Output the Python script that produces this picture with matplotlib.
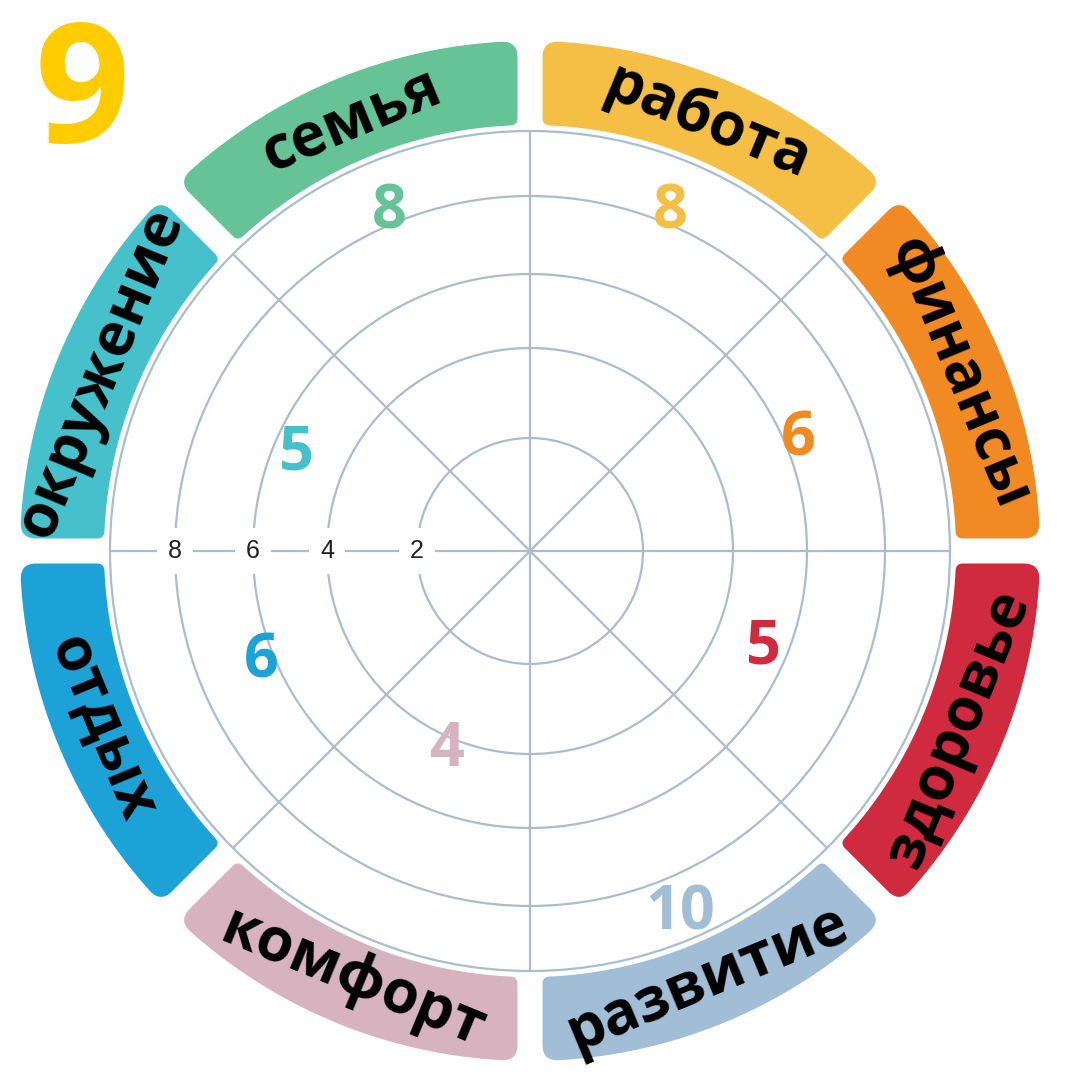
import numpy as np
import matplotlib
matplotlib.use("Agg")
import matplotlib.pyplot as plt
from matplotlib.path import Path
from matplotlib.patches import PathPatch

plt.rcParams['font.family'] = ['Open Sans', 'DejaVu Sans']

# sectors counter-clockwise starting at 3 o'clock
categories = ["финансы", "работа", "семья", "окружение",
              "отдых", "комфорт", "развитие", "здоровье"]
scores = [6, 8, 8, 5, 6, 4, 10, 5]
colors = ["#F28A24", "#F5BF45", "#65C397", "#46C1CC",
          "#1DA2D8", "#D6B3BF", "#A2BDD6", "#CF2A3E"]
ring_ticks = [2, 4, 6, 8]
total = "9"

# radial scale of the wheel (rings are not evenly spaced)
scale_vals = [0, 2, 4, 6, 8, 10]
scale_px = [0, 113, 203, 277, 355, 420]

GRID = "#A9BDCE"
cx, cy = 530, 529          # wheel centre, pixels (y up)
R = 420                    # outer grid circle, pixels
RIN, ROUT, GAP = 426, 510, 12.5


def fwd(v):
    return np.interp(v, scale_vals, scale_px)


def inv(p):
    return np.interp(p, scale_px, scale_vals)


def band_path(a1, a2, rin, rout, gap, ro, ri):
    def pt(r, a):
        return (cx + r * np.cos(a), cy + r * np.sin(a))

    def toward(P, Q, d):
        P = np.array(P)
        Q = np.array(Q)
        u = (Q - P) / np.linalg.norm(Q - P)
        return tuple(P + u * d)

    o1 = a1 + np.arcsin(gap / rout)
    o2 = a2 - np.arcsin(gap / rout)
    i1 = a1 + np.arcsin(gap / rin)
    i2 = a2 - np.arcsin(gap / rin)
    O1, O2, I1, I2 = pt(rout, o1), pt(rout, o2), pt(rin, i1), pt(rin, i2)

    verts, codes = [], []
    for k, a in enumerate(np.linspace(o1 + ro / rout, o2 - ro / rout, 80)):
        verts.append(pt(rout, a))
        codes.append(Path.MOVETO if k == 0 else Path.LINETO)
    verts += [O2, toward(O2, I2, ro)]
    codes += [Path.CURVE3, Path.CURVE3]
    verts.append(toward(I2, O2, ri))
    codes.append(Path.LINETO)
    verts += [I2, pt(rin, i2 - ri / rin)]
    codes += [Path.CURVE3, Path.CURVE3]
    for a in np.linspace(i2 - ri / rin, i1 + ri / rin, 80)[1:]:
        verts.append(pt(rin, a))
        codes.append(Path.LINETO)
    verts += [I1, toward(I1, O1, ri)]
    codes += [Path.CURVE3, Path.CURVE3]
    verts.append(toward(O1, I1, ro))
    codes.append(Path.LINETO)
    verts += [O1, pt(rout, o1 + ro / rout)]
    codes += [Path.CURVE3, Path.CURVE3]
    verts.append(verts[0])
    codes.append(Path.CLOSEPOLY)
    return Path(verts, codes)


fig = plt.figure(figsize=(10.8, 10.8), dpi=100)

# background layer in pixel coordinates: coloured bands, labels, total
bg = fig.add_axes([0, 0, 1, 1])
bg.set_xlim(0, 1080)
bg.set_ylim(0, 1080)
bg.axis('off')

n = len(categories)
step = 2 * np.pi / n
for i, (name, col) in enumerate(zip(categories, colors)):
    a1 = i * step
    a2 = a1 + step
    bg.add_patch(PathPatch(band_path(a1, a2, RIN, ROUT, GAP, 16, 7),
                           facecolor=col, edgecolor='none'))
    mid = a1 + step / 2
    rot = np.degrees(mid) - 90 if np.sin(mid) >= 0 else np.degrees(mid) + 90
    rl = 464
    bg.text(cx + rl * np.cos(mid), cy + rl * np.sin(mid), name,
            rotation=rot, rotation_mode='anchor', ha='center', va='center',
            fontsize=43, fontweight='bold', color='black')

bg.text(82, 982, total, ha='center', va='center', fontsize=120,
        fontweight='bold', color='#FFCC00')

# the wheel itself
ax = fig.add_axes([(cx - R) / 1080, (cy - R) / 1080, 2 * R / 1080, 2 * R / 1080],
                  projection='polar')
ax.set_facecolor('none')
ax.set_rscale('function', functions=(fwd, inv))
ax.set_ylim(0, 10)
ax.set_xticks(np.arange(n) * step)
ax.set_yticks(ring_ticks)
ax.set_xticklabels([])
ax.set_yticklabels([])
ax.tick_params(length=0)
ax.grid(True, color=GRID, linewidth=1.6)
ax.spines['polar'].set_color(GRID)
ax.spines['polar'].set_linewidth(1.6)

for v in ring_ticks:
    ax.text(np.pi, v, str(v), ha='center', va='center', fontsize=18,
            family=['Liberation Sans', 'DejaVu Sans'], color='#222222',
            bbox=dict(facecolor='white', edgecolor='none',
                      boxstyle='square,pad=0.45'), zorder=3)

for i, (s, col) in enumerate(zip(scores, colors)):
    mid = i * step + step / 2
    ax.text(mid, min(s + 0.35, 9.15), str(s), ha='center', va='center',
            fontsize=44, fontweight='bold', color=col, zorder=4)

fig.savefig("out.png", dpi=100)
